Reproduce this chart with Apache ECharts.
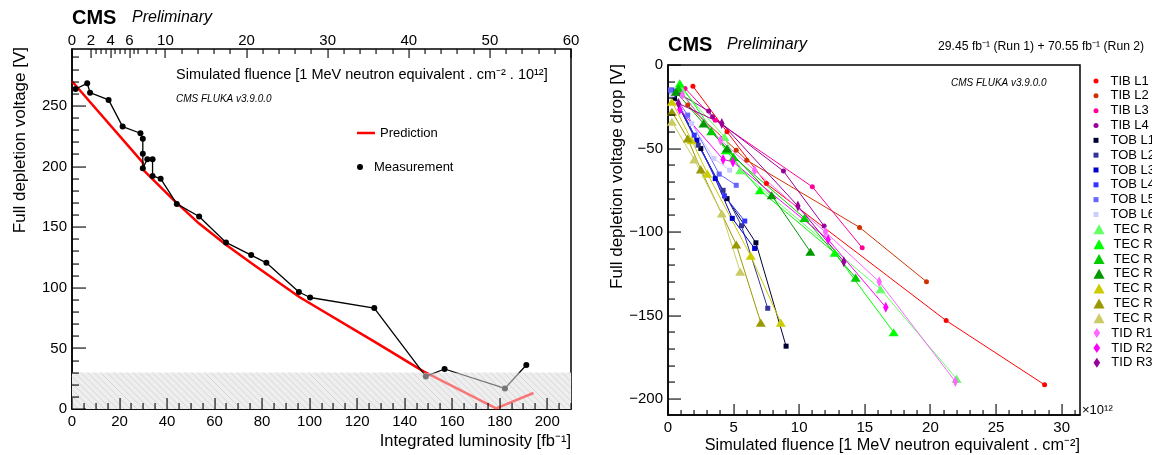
<!DOCTYPE html>
<html><head><meta charset="utf-8">
<script src="https://cdn.jsdelivr.net/npm/echarts@6/dist/echarts.min.js"></script>
<style>html,body{margin:0;padding:0;background:#fff}#c{width:1152px;height:455px}</style>
</head><body><div id="c"></div>
<script>
// ---------- LEFT PANEL DATA ----------
const measLumi = [1.5, 6.4, 7.6, 15.4, 21.3, 28.8, 29.8, 29.8, 29.8, 31.7, 33.9, 33.9, 37.3, 44.1, 53.5, 64.8, 75.4, 81.8, 95.5, 100.2, 127.2, 148.9, 156.8, 182.2, 191.2];
const measV    = [264, 268.7, 261, 255, 233, 227.5, 223, 210.5, 198.7, 206, 206, 192.3, 190, 169.2, 158.8, 137.4, 127, 120.6, 96.5, 92, 83.3, 26.9, 33, 17, 36.3];
const predLumi = [0, 29.8, 30.3, 42.7, 53.5, 64.8, 75.4, 87.6, 96, 128.3, 147.9, 178.5, 194.2];
const predV    = [270.4, 203.3, 196.7, 172.5, 153.0, 135.5, 120.5, 103.5, 92, 54.4, 31, 0.5, 13.2];
const bandLimits = [0, 30];                       // hatched region [V]
const topMajorFluence = [0, 2, 4, 6, 10, 20, 30, 40, 50, 60];
const topMinorFluence = [2.5, 3, 3.5, 4.5, 5, 5.5, 6.5, 7, 8, 9, 12, 14, 16, 18, 22, 24, 26, 28, 32, 34, 36, 38, 42, 44, 46, 48, 52, 54, 56, 58];
const topAnchorFluence = [0, 2, 4, 6, 10, 60];    // fluence scale vs luminosity
const topAnchorLumi    = [0, 8.0, 16.3, 24.2, 39.3, 210];

// ---------- RIGHT PANEL DATA (fluence 1e12, drop V) ----------
const seriesNames = ['TIB L1','TIB L2','TIB L3','TIB L4','TOB L1','TOB L2','TOB L3','TOB L4','TOB L5','TOB L6','TEC R1','TEC R2','TEC R3','TEC R4','TEC R5','TEC R6','TEC R7','TID R1','TID R2','TID R3'];
const tibL1 = [[1.9,-12.7],[4.5,-40],[7.5,-71],[21.2,-153],[28.7,-191.4]];
const tibL2 = [[1.5,-24],[5.2,-51],[6.0,-57],[14.6,-97.2],[19.7,-129.7]];
const tibL3 = [[1.3,-14],[3.6,-33],[11.0,-72.9],[14.8,-109.4]];
const tibL4 = [[0.8,-17],[3.1,-27.5],[3.4,-31],[8.8,-63.5],[11.9,-96.4]];
const tobL1 = [[0.5,-20],[2.5,-50],[4.5,-80],[6.7,-106.4],[9.0,-168.3]];
const tobL2 = [[0.4,-18],[2.3,-48],[4.2,-75],[5.6,-96.2],[7.6,-145.6]];
const tobL3 = [[0.3,-16],[2.2,-45],[3.6,-68],[4.9,-91.8],[6.6,-109.8]];
const tobL4 = [[0.3,-15],[2.0,-42],[4.3,-78.3],[5.85,-93.4]];
const tobL5 = [[0.2,-15],[1.5,-30],[3.9,-65.3],[5.2,-72]];
const tobL6 = [[0.3,-18],[1.8,-35],[3.5,-56],[4.7,-63]];
const tecR1 = [[1.0,-14],[4.3,-43],[5.5,-63],[16.2,-134.2],[22.0,-187.9]];
const tecR2 = [[0.9,-11],[4.4,-51],[7.0,-75],[12.7,-112.4],[17.2,-160]];
const tecR3 = [[0.8,-14],[3.3,-39.6],[5.0,-55],[10.4,-91.6],[14.3,-127.3]];
const tecR4 = [[0.6,-16],[2.7,-35],[4.5,-50],[7.9,-78],[10.85,-111.8]];
const tecR5 = [[0.3,-22],[1.8,-45],[3.0,-65],[6.3,-114.2],[8.6,-154.2]];
const tecR6 = [[0.3,-28],[1.5,-44],[2.5,-62.5],[5.2,-107.4],[7.07,-154.2]];
const tecR7 = [[0.3,-34],[2.0,-56.5],[4.1,-88.8],[5.5,-123.7]];
const tidR1 = [[1.1,-18],[4.0,-45],[6.6,-63],[12.0,-100],[16.1,-129.7],[21.9,-189.5]];
const tidR2 = [[0.9,-26.7],[4.2,-56.5],[4.95,-58],[12.2,-104.4],[16.6,-145]];
const tidR3 = [[0.8,-23],[4.1,-35],[9.9,-84.4],[13.4,-117.7]];
const seriesData = [tibL1,tibL2,tibL3,tibL4,tobL1,tobL2,tobL3,tobL4,tobL5,tobL6,tecR1,tecR2,tecR3,tecR4,tecR5,tecR6,tecR7,tidR1,tidR2,tidR3];

// ---------- AXIS RANGES / TICK STEPS ----------
const LEFT_XMAX = 210, LEFT_YMAX = 297, RIGHT_XMAX = 31.4, RIGHT_YMAX = 209.5;
const leftXMajorStep = 20, leftXMinorStep = 5, leftYMajorStep = 50, leftYMinorStep = 10;
const rightXMajorStep = 5, rightXMinorStep = 1, rightYMajorStep = 50, rightYMinorStep = 10;

// ---------- STYLES ----------
const seriesColors = ['#ff0000','#cc3300','#ff0099','#990099','#000033','#333399','#0000cc','#3333ff','#6666ff','#ccccff','#66ff66','#00ff00','#00cc00','#009900','#cccc00','#999900','#cccc66','#ff66ff','#ff00ff','#990099'];
const FONT = '"Liberation Sans", Arial, Helvetica, sans-serif';
const TRI = 'path://M5,0L10,9L0,9Z';
const SQ = 'path://M0,0L10,0L10,10L0,10Z';
const DIA = 'path://M4,0L8,6L4,12L0,6Z';
function groupOf(i){ return i<4?0:(i<10?1:(i<17?2:3)); }
const grpSymbol = ['circle', SQ, TRI, DIA];
const grpSize = [5, 5, [10,9], [8,11]];

function fluenceToLumi(f){
  for (let i=0;i<topAnchorFluence.length-1;i++){
    const a=topAnchorFluence[i], b=topAnchorFluence[i+1];
    if (f<=b){ return topAnchorLumi[i] + (f-a)/(b-a)*(topAnchorLumi[i+1]-topAnchorLumi[i]); }
  }
  return topAnchorLumi[topAnchorLumi.length-1];
}

// tick lists: [axisId, value, isMajor]  (axisId 0 = x, 1 = y, 2 = top fluence axis)
function tickList(id, max, majorStep, minorStep){
  const out = [];
  const n = Math.floor(max/minorStep + 1e-9);
  for (let k=0;k<=n;k++){
    const v = +(k*minorStep).toFixed(6);
    const major = Math.abs(v/majorStep - Math.round(v/majorStep)) < 1e-6;
    out.push([id, v, major?1:0]);
  }
  return out;
}
const leftTicks = tickList(0, LEFT_XMAX, leftXMajorStep, leftXMinorStep)
  .concat(tickList(1, LEFT_YMAX, leftYMajorStep, leftYMinorStep))
  .concat(topMajorFluence.map(v=>[2,v,1]), topMinorFluence.map(v=>[2,v,0]));
const rightTicks = tickList(0, RIGHT_XMAX, rightXMajorStep, rightXMinorStep).concat(tickList(1, RIGHT_YMAX, rightYMajorStep, rightYMinorStep));

function tickRender(xBase, yBase, yTop, lens){
  return function(params, api){
    const id = Number(api.value(0)), v = Number(api.value(1)), major = Number(api.value(2)) === 1;
    const L = lens[id][major?0:1];
    let shape;
    if (id === 0){ const p = api.coord([v, yBase]); shape = {x:Math.round(p[0])-0.5, y:p[1]-L, width:1.1, height:L}; }
    else if (id === 1){ const p = api.coord([xBase, v]); shape = {x:p[0], y:Math.round(p[1])-0.5, width:L, height:1.1}; }
    else { const p = api.coord([fluenceToLumi(v), yTop]); shape = {x:Math.round(p[0])-0.5, y:p[1], width:1.1, height:L}; }
    const ch = [{type:'rect', shape:shape, style:{fill:'#000'}}];
    if (id === 2 && major){
      const p = api.coord([fluenceToLumi(v), yTop]);
      ch.push({type:'text', style:{text:String(v), x:p[0], y:p[1]-1, align:'center', verticalAlign:'bottom', fontSize:15, fontFamily:FONT, fill:'#000'}});
    }
    return {type:'group', children:ch};
  };
}

const chart = echarts.init(document.getElementById('c'));

function mkAxis(extra){
  return Object.assign({
    type:'value',
    axisLine:{show:true, onZero:false, lineStyle:{color:'#000', width:1.5}},
    splitLine:{show:false},
    axisTick:{show:false},
    minorTick:{show:false},
    axisLabel:{show:true, color:'#000', fontSize:15, fontFamily:FONT, showMaxLabel:false, margin:5}
  }, extra);
}

function bandRender(overlay){
  return function(params, api){
    const p0 = api.coord([api.value(0), api.value(3)]);
    const p1 = api.coord([api.value(2), api.value(1)]);
    const x0=p0[0], y0=p0[1], x1=p1[0], y1=p1[1];
    const ch = [];
    if (overlay){
      ch.push({type:'rect', shape:{x:x0,y:y0,width:x1-x0,height:y1-y0}, style:{fill:'rgba(238,238,238,0.5)'}});
    } else {
      ch.push({type:'rect', shape:{x:x0,y:y0,width:x1-x0,height:y1-y0}, style:{fill:'#eeeeee'}});
      for (let c = x0 - y1; c <= x1 - y0; c += 6.5){
        const ya = Math.max(y0, x0 - c), yb = Math.min(y1, x1 - c);
        if (ya < yb) ch.push({type:'line', shape:{x1:ya+c,y1:ya,x2:yb+c,y2:yb}, style:{stroke:'#b4b4b4', lineWidth:0.8}});
      }
    }
    return {type:'group', children:ch};
  };
}

const series = [
  {type:'custom', name:'band', xAxisIndex:0, yAxisIndex:0, z:1, silent:true, clip:false,
   encode:{x:[0,2], y:[1,3]}, data:[[0, bandLimits[0], LEFT_XMAX, bandLimits[1]]], renderItem:bandRender(false)},
  {type:'line', name:'Prediction', xAxisIndex:0, yAxisIndex:0, z:2, showSymbol:false, symbol:'none',
   data: predLumi.map((x,i)=>[x,predV[i]]), lineStyle:{color:'#ff0000', width:2.5}, itemStyle:{color:'#ff0000'}},
  {type:'line', name:'Measurement', xAxisIndex:0, yAxisIndex:0, z:2, symbol:'circle', symbolSize:6,
   data: measLumi.map((x,i)=>[x,measV[i]]), lineStyle:{color:'#000', width:1.3}, itemStyle:{color:'#000'}},
  {type:'custom', name:'bandOverlay', xAxisIndex:0, yAxisIndex:0, z:3, silent:true, clip:false,
   encode:{x:[0,2], y:[1,3]}, data:[[0, bandLimits[0], LEFT_XMAX, bandLimits[1]]], renderItem:bandRender(true)},
  {type:'custom', name:'leftTicks', xAxisIndex:0, yAxisIndex:0, z:10, silent:true, clip:false,
   data:leftTicks, renderItem:tickRender(0, 0, LEFT_YMAX, [[11,6],[14,7],[9,5]])},
  {type:'custom', name:'rightTicks', xAxisIndex:1, yAxisIndex:1, z:10, silent:true, clip:false,
   data:rightTicks, renderItem:tickRender(0, RIGHT_YMAX, 0, [[11,5],[13,7]])}
];

seriesData.forEach((d,i)=>{
  const g = groupOf(i);
  series.push({type:'line', name:seriesNames[i], xAxisIndex:1, yAxisIndex:1, z:2,
    symbol:grpSymbol[g], symbolSize:grpSize[g], showSymbol:true, symbolKeepAspect:true,
    data:d.map(p=>[p[0], -p[1]]),
    lineStyle:{color:seriesColors[i], width:1}, itemStyle:{color:seriesColors[i]}});
});

function rightLegend(names, icon, h, top){
  return {orient:'vertical', left:1093.5, top:top, padding:0, itemGap:0.83, itemWidth:13, itemHeight:h,
    icon:icon, selectedMode:false, data:names,
    textStyle:{fontSize:13, lineHeight:14, fontFamily:FONT, color:'#000', padding:[0,0,0,3]}};
}
const step = 14.83, first = 81;

const option = {
  animation:false,
  grid:[
    {left:72, top:49, width:499, height:360, show:true, borderColor:'#000', borderWidth:1.5},
    {left:668, top:65, width:412, height:350, show:true, borderColor:'#000', borderWidth:1.5}
  ],
  xAxis:[
    mkAxis({gridIndex:0, min:0, max:LEFT_XMAX, interval:leftXMajorStep}),
    mkAxis({gridIndex:1, min:0, max:RIGHT_XMAX, interval:rightXMajorStep})
  ],
  yAxis:[
    mkAxis({gridIndex:0, min:0, max:LEFT_YMAX, interval:leftYMajorStep}),
    mkAxis({gridIndex:1, inverse:true, min:0, max:RIGHT_YMAX, interval:rightYMajorStep})
  ],
  legend:[
    {orient:'vertical', left:357, top:126, padding:0, itemWidth:18, itemHeight:2.5, icon:'rect', selectedMode:false,
     data:['Prediction'], textStyle:{fontSize:13, lineHeight:14, fontFamily:FONT, color:'#000'}},
    {orient:'vertical', left:357, top:160, padding:0, itemWidth:18, itemHeight:6, icon:'circle', selectedMode:false,
     data:['Measurement'], textStyle:{fontSize:13, lineHeight:14, fontFamily:FONT, color:'#000'}},
    rightLegend(seriesNames.slice(0,4), 'circle', 5, first-7),
    rightLegend(seriesNames.slice(4,10), SQ, 5, first+4*step-7),
    rightLegend(seriesNames.slice(10,17), TRI, 10, first+10*step-7),
    rightLegend(seriesNames.slice(17,20), DIA, 10, first+17*step-7)
  ],
  graphic:[
    {type:'text', left:72, top:8, style:{text:'CMS', font:'bold 20px '+FONT, fill:'#000'}},
    {type:'text', left:132, top:10, style:{text:'Preliminary', font:'italic 16px '+FONT, fill:'#000'}},
    {type:'text', x:176, y:75, style:{text:'Simulated fluence [1 MeV neutron equivalent . cm⁻² . 10¹²]', font:'14.5px '+FONT, fill:'#000', verticalAlign:'middle'}},
    {type:'text', x:176, y:99, style:{text:'CMS FLUKA v3.9.0.0', font:'italic 10px '+FONT, fill:'#000', verticalAlign:'middle'}},
    {type:'text', x:20, y:47, rotation:Math.PI/2, style:{text:'Full depletion voltage [V]', font:'17px '+FONT, fill:'#000', align:'right', verticalAlign:'middle'}},
    {type:'text', x:571, y:441, style:{text:'Integrated luminosity [fb⁻¹]', font:'16.5px '+FONT, fill:'#000', align:'right', verticalAlign:'middle'}},
    {type:'text', left:668, top:35, style:{text:'CMS', font:'bold 20px '+FONT, fill:'#000'}},
    {type:'text', left:727, top:37, style:{text:'Preliminary', font:'italic 16px '+FONT, fill:'#000'}},
    {type:'text', x:938, y:47, style:{text:'29.45 fb⁻¹ (Run 1) + 70.55 fb⁻¹ (Run 2)', font:'12.2px '+FONT, fill:'#000', verticalAlign:'middle'}},
    {type:'text', x:951, y:83, style:{text:'CMS FLUKA v3.9.0.0', font:'italic 10px '+FONT, fill:'#000', verticalAlign:'middle'}},
    {type:'text', x:617, y:64, rotation:Math.PI/2, style:{text:'Full depletion voltage drop [V]', font:'17px '+FONT, fill:'#000', align:'right', verticalAlign:'middle'}},
    {type:'text', x:1080, y:446, style:{text:'Simulated fluence [1 MeV neutron equivalent . cm⁻²]', font:'16.3px '+FONT, fill:'#000', align:'right', verticalAlign:'middle'}},
    {type:'text', x:1082, y:410, style:{text:'×10¹²', font:'13px '+FONT, fill:'#000', verticalAlign:'middle'}}
  ],
  series:series
};
option.yAxis[1].axisLabel = Object.assign({}, option.yAxis[1].axisLabel, {formatter:v=> v===0?'0':'\u2212'+v});
option.yAxis[0].axisLabel = Object.assign({}, option.yAxis[0].axisLabel, {formatter:v=> (v%50===0)?String(v):''});
chart.setOption(option);
</script></body></html>
